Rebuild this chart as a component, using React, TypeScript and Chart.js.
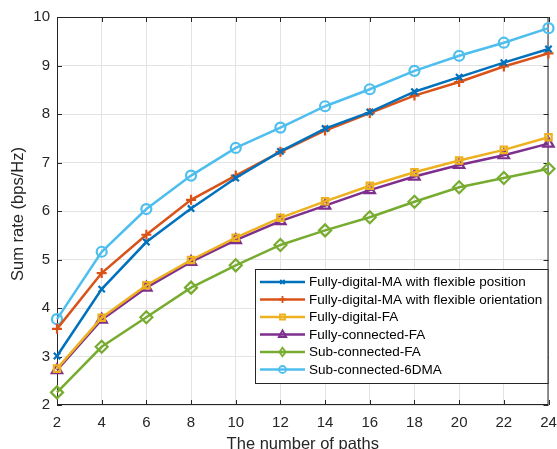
import React, { useEffect, useRef } from "react";
import { Chart, registerables } from "chart.js";

Chart.register(...registerables);

const paths = [2, 4, 6, 8, 10, 12, 14, 16, 18, 20, 22, 24];
const fdMaPosition = [3.01, 4.39, 5.36, 6.05, 6.68, 7.23, 7.7, 8.04, 8.46, 8.76, 9.06, 9.34];
const fdMaOrientation = [3.57, 4.72, 5.51, 6.23, 6.73, 7.22, 7.66, 8.02, 8.38, 8.66, 8.98, 9.25];
const fdFA = [2.75, 3.8, 4.47, 4.99, 5.45, 5.86, 6.2, 6.52, 6.8, 7.04, 7.26, 7.52];
const fcFA = [2.72, 3.76, 4.42, 4.95, 5.4, 5.79, 6.11, 6.43, 6.71, 6.95, 7.15, 7.39];
const scFA = [2.26, 3.2, 3.81, 4.42, 4.88, 5.3, 5.6, 5.87, 6.19, 6.49, 6.68, 6.87];
const sc6DMA = [3.77, 5.16, 6.04, 6.73, 7.3, 7.72, 8.16, 8.51, 8.89, 9.2, 9.47, 9.77];

const xTitle = "The number of paths";
const yTitle = "Sum rate (bps/Hz)";
const labels = [
  "Fully-digital-MA with flexible position",
  "Fully-digital-MA with flexible orientation",
  "Fully-digital-FA",
  "Fully-connected-FA",
  "Sub-connected-FA",
  "Sub-connected-6DMA",
];
const colors = ["#0072BD", "#D95319", "#EDB120", "#7E2F8E", "#77AC30", "#4DBEEE"];
const markers = ["crossRot", "cross", "rect", "triangle", "rectRot", "circle"];
const radii = [4.5, 5, 4.5, 6, 6, 5];
const seriesList = [fdMaPosition, fdMaOrientation, fdFA, fcFA, scFA, sc6DMA];

const FONT = "'Liberation Sans', Arial, Helvetica, sans-serif";
const AX = "#262626";

function drawMarker(ctx: CanvasRenderingContext2D, style: string, x: number, y: number, r: number) {
  ctx.beginPath();
  if (style === "circle") {
    ctx.arc(x, y, r, 0, Math.PI * 2);
  } else if (style === "rect") {
    ctx.rect(x - r * 0.8, y - r * 0.8, r * 1.6, r * 1.6);
  } else if (style === "rectRot") {
    ctx.moveTo(x, y - r);
    ctx.lineTo(x + r * 0.75, y);
    ctx.lineTo(x, y + r);
    ctx.lineTo(x - r * 0.75, y);
    ctx.closePath();
  } else if (style === "triangle") {
    ctx.moveTo(x, y - r);
    ctx.lineTo(x + r * 0.9, y + r * 0.6);
    ctx.lineTo(x - r * 0.9, y + r * 0.6);
    ctx.closePath();
  } else if (style === "cross") {
    ctx.moveTo(x - r, y);
    ctx.lineTo(x + r, y);
    ctx.moveTo(x, y - r);
    ctx.lineTo(x, y + r);
  } else if (style === "crossRot") {
    const d = r * 0.7;
    ctx.moveTo(x - d, y - d);
    ctx.lineTo(x + d, y + d);
    ctx.moveTo(x - d, y + d);
    ctx.lineTo(x + d, y - d);
  }
  ctx.stroke();
}

const boxPlugin = {
  id: "matlabBox",
  beforeDatasetsDraw(chart: any) {
    const { ctx, chartArea: a, scales } = chart;
    ctx.save();
    ctx.strokeStyle = AX;
    ctx.lineWidth = 1;
    ctx.strokeRect(a.left + 0.5, a.top + 0.5, a.right - a.left - 1, a.bottom - a.top - 1);
    ctx.beginPath();
    const tl = 5;
    scales.x.ticks.forEach((t: any) => {
      const px = Math.round(scales.x.getPixelForValue(t.value)) + 0.5;
      ctx.moveTo(px, a.bottom);
      ctx.lineTo(px, a.bottom - tl);
      ctx.moveTo(px, a.top);
      ctx.lineTo(px, a.top + tl);
    });
    scales.y.ticks.forEach((t: any) => {
      const py = Math.round(scales.y.getPixelForValue(t.value)) + 0.5;
      ctx.moveTo(a.left, py);
      ctx.lineTo(a.left + tl, py);
      ctx.moveTo(a.right, py);
      ctx.lineTo(a.right - tl, py);
    });
    ctx.stroke();

    // axis titles
    ctx.fillStyle = AX;
    ctx.font = `16.5px ${FONT}`;
    ctx.textAlign = "center";
    ctx.textBaseline = "alphabetic";
    ctx.fillText(xTitle, (a.left + a.right) / 2, 448.5);
    ctx.save();
    ctx.translate(22.5, 214);
    ctx.rotate(-Math.PI / 2);
    ctx.fillText(yTitle, 0, 0);
    ctx.restore();
    ctx.restore();
  },
  afterDraw(chart: any) {
    const { ctx } = chart;
    ctx.save();
    const lx = 255.5, ly = 269.5, lw = 292.5, lh = 114;
    ctx.fillStyle = "#ffffff";
    ctx.fillRect(lx, ly, lw, lh);
    ctx.strokeStyle = AX;
    ctx.lineWidth = 1;
    ctx.strokeRect(lx, ly, lw, lh);
    ctx.font = `13.5px ${FONT}`;
    ctx.textBaseline = "middle";
    ctx.textAlign = "left";
    labels.forEach((lab, i) => {
      const y = 282 + i * 17.5;
      ctx.strokeStyle = colors[i];
      ctx.lineWidth = 2.5;
      ctx.beginPath();
      ctx.moveTo(260, y);
      ctx.lineTo(305, y);
      ctx.stroke();
      ctx.lineWidth = 1.8;
      drawMarker(ctx, markers[i], 282.5, y, radii[i] * 0.7);
      ctx.fillStyle = "#000000";
      ctx.fillText(lab, 309, y + 0.5);
    });
    ctx.restore();
  },
};

export default function App() {
  const ref = useRef<HTMLCanvasElement | null>(null);
  useEffect(() => {
    if (!ref.current) return;
    Chart.defaults.font.family = FONT;
    const chart = new Chart(ref.current, {
      type: "line",
      data: {
        datasets: seriesList.map((s, i) => ({
          label: labels[i],
          data: paths.map((p, j) => ({ x: p, y: s[j] })),
          borderColor: colors[i],
          backgroundColor: "rgba(0,0,0,0)",
          borderWidth: 2.5,
          pointStyle: markers[i] as any,
          pointRadius: radii[i],
          pointBorderWidth: 2.2,
          pointBorderColor: colors[i],
          pointBackgroundColor: "rgba(0,0,0,0)",
          tension: 0,
          clip: false as any,
        })),
      },
      options: {
        animation: false,
        responsive: false,
        layout: { padding: { left: 0, top: 17, right: 8.5, bottom: 0 } },
        plugins: { legend: { display: false }, tooltip: { enabled: false } },
        scales: {
          x: {
            type: "linear",
            min: 2,
            max: 24,
            ticks: { stepSize: 2, color: AX, font: { size: 15 }, padding: 9, maxRotation: 0 },
            grid: { color: "#e3e3e3", drawTicks: false, lineWidth: 1 },
            border: { display: false },
            afterFit: (s: any) => {
              s.height = 44;
              s.paddingLeft = 0;
              s.paddingRight = 0;
            },
          },
          y: {
            type: "linear",
            min: 2,
            max: 10,
            ticks: { stepSize: 1, color: AX, font: { size: 15 }, padding: 7 },
            grid: { color: "#e3e3e3", drawTicks: false, lineWidth: 1 },
            border: { display: false },
            afterFit: (s: any) => {
              s.width = 57;
              s.paddingTop = 0;
              s.paddingBottom = 0;
            },
          },
        },
      },
      plugins: [boxPlugin],
    });
    return () => chart.destroy();
  }, []);
  return (
    <div style={{ position: "fixed", left: 0, top: 0, width: 557, height: 449, background: "#fff" }}>
      <canvas ref={ref} width={557} height={449} style={{ display: "block" }} />
    </div>
  );
}
